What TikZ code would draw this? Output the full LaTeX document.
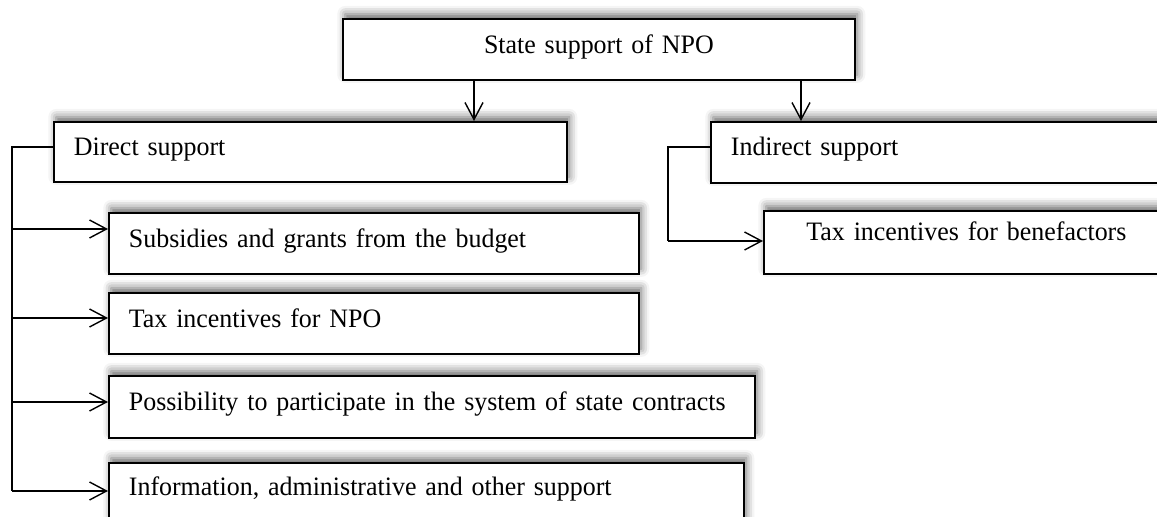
\documentclass[tikz,border=0pt]{standalone}
\usepackage{fontspec}
\setmainfont{Liberation Serif}[FakeStretch=0.975]
\usetikzlibrary{arrows.meta,shadows.blur}
\hyphenpenalty=10000

\tikzset{
  box/.style={draw, line width=0.9pt, fill=white, anchor=north west,
    inner xsep=10pt, inner ysep=0pt,
    blur shadow={shadow xshift=1.2pt, shadow yshift=2.5pt,
      shadow blur radius=4pt, shadow opacity=60}},
  lbox/.style={box, align=left},
  cbox/.style={box, align=center},
  link/.style={line width=0.7pt},
  arr/.style={link, -{Straight Barb[length=8.5pt,width=9pt,line width=0.7pt]}}
}

\begin{document}
\begin{tikzpicture}[x=0.5pt, y=-0.5pt, font=\fontsize{13.3}{16}\selectfont]
  \useasboundingbox (0,0) rectangle (1157,517);
  \clip (0,0) rectangle (1157,517);

  % root and the two branches
  \node[cbox, text width=236pt, text height=17.5pt, text depth=13pt]
    (root) at (342,18) {State support of NPO};
  \node[lbox, text width=236.5pt, text height=17pt, text depth=13pt]
    (direct) at (53,121) {Direct support};
  \node[lbox, text width=210pt, text height=17pt, text depth=13.5pt]
    (indirect) at (710,121) {Indirect support};

  % forms of direct support
  \node[lbox, text width=245pt, text height=17.5pt, text depth=13pt]
    (sub) at (108,212) {Subsidies and grants from the budget};
  \node[lbox, text width=245pt, text height=17.5pt, text depth=13pt]
    (npo) at (108,292) {Tax incentives for NPO};
  \node[lbox, text width=303pt, text height=17.5pt, text depth=13.5pt]
    (poss) at (108,375) {Possibility to participate in the system of state contracts};
  \node[lbox, text width=297.5pt, text height=16.5pt, text depth=14.5pt]
    (info) at (108,462) {Information, administrative and other support};

  % form of indirect support
  \node[cbox, text width=182.5pt, text height=15pt, text depth=16.5pt]
    (ben) at (763,210) {Tax incentives for benefactors};

  % root to branches
  \coordinate (c1) at (474,0);
  \coordinate (c2) at (801,0);
  \draw[arr] (root.south -| c1) -- (direct.north -| c1);
  \draw[arr] (root.south -| c2) -- (indirect.north -| c2);

  % bus on the left
  \coordinate (bus) at (12,147);
  \draw[link] (direct.west |- bus) -- (bus) -- (12,491);
  \foreach \n/\y in {sub/229, npo/318, poss/402, info/491}
    \draw[arr] (12,\y) -- (\n.west |- 12,\y);

  % bus on the right
  \coordinate (rbus) at (668,147);
  \draw[link] (indirect.west |- rbus) -- (rbus) -- (668,241);
  \draw[arr] (668,241) -- (ben.west |- 668,241);
\end{tikzpicture}
\end{document}
